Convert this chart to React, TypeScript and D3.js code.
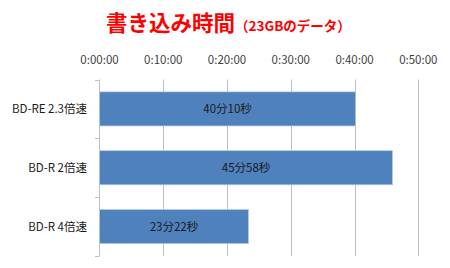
import React from "react";
import * as d3 from "d3";

const categories = ["BD-RE 2.3倍速", "BD-R 2倍速", "BD-R 4倍速"];
const seconds = [2410, 2758, 1402];
const valueLabels = ["40分10秒", "45分58秒", "23分22秒"];
const tickValues = [0, 600, 1200, 1800, 2400, 3000];
const tickLabels = ["0:00:00", "0:10:00", "0:20:00", "0:30:00", "0:40:00", "0:50:00"];

const W = 450, H = 268;
const left = 99.5, right = 418.3, top = 79.5, bottom = 256;
const font = "'Noto Sans CJK JP', 'Noto Sans', sans-serif";

export default function App() {
  const x = d3.scaleLinear().domain([0, 3000]).range([left, right]);
  const y = d3.scaleBand<string>().domain(categories).range([top, bottom]).paddingInner(0.42).paddingOuter(0.21);
  const band = (bottom - top) / categories.length;
  return (
    <svg width={W} height={H} style={{ position: "absolute", left: 0, top: 0, background: "#fff" }}>
      <text x={106} y={31} fill="#ff0000" fontFamily={font} fontWeight="bold" fontSize={21.5}>
        書き込み時間
        <tspan fontSize={13.5}>（23GBのデータ）</tspan>
      </text>
      {tickValues.map((t, i) => (
        <g key={t}>
          {i > 0 && <line x1={Math.round(x(t)) + 0.5} x2={Math.round(x(t)) + 0.5} y1={top} y2={bottom} stroke="#bfbfbf" strokeWidth={1} />}
          <text x={x(t)} y={64} textAnchor="middle" fontFamily={font} fontSize={11.5} fill="#404040">{tickLabels[i]}</text>
        </g>
      ))}
      <line x1={99.5} x2={99.5} y1={top} y2={bottom} stroke="#bfbfbf" />
      {d3.range(categories.length + 1).map((i) => (
        <line key={i} x1={95} x2={99.5} y1={Math.round(top + band * i) + 0.5} y2={Math.round(top + band * i) + 0.5} stroke="#bfbfbf" />
      ))}
      {categories.map((c, i) => (
        <g key={c}>
          <rect x={x(0)} y={y(c)!} width={x(seconds[i]) - x(0)} height={y.bandwidth()} fill="#4f81bd" stroke="#b9cde5" strokeWidth={0.7} />
          <text x={(x(0) + x(seconds[i])) / 2} y={y(c)! + y.bandwidth() / 2} dy="0.35em" textAnchor="middle" fontFamily={font} fontSize={11.5} fill="#1a1a1a">{valueLabels[i]}</text>
          <text x={87} y={y(c)! + y.bandwidth() / 2} dy="0.35em" textAnchor="end" fontFamily={font} fontSize={11.5} fill="#1a1a1a">{c}</text>
        </g>
      ))}
    </svg>
  );
}
